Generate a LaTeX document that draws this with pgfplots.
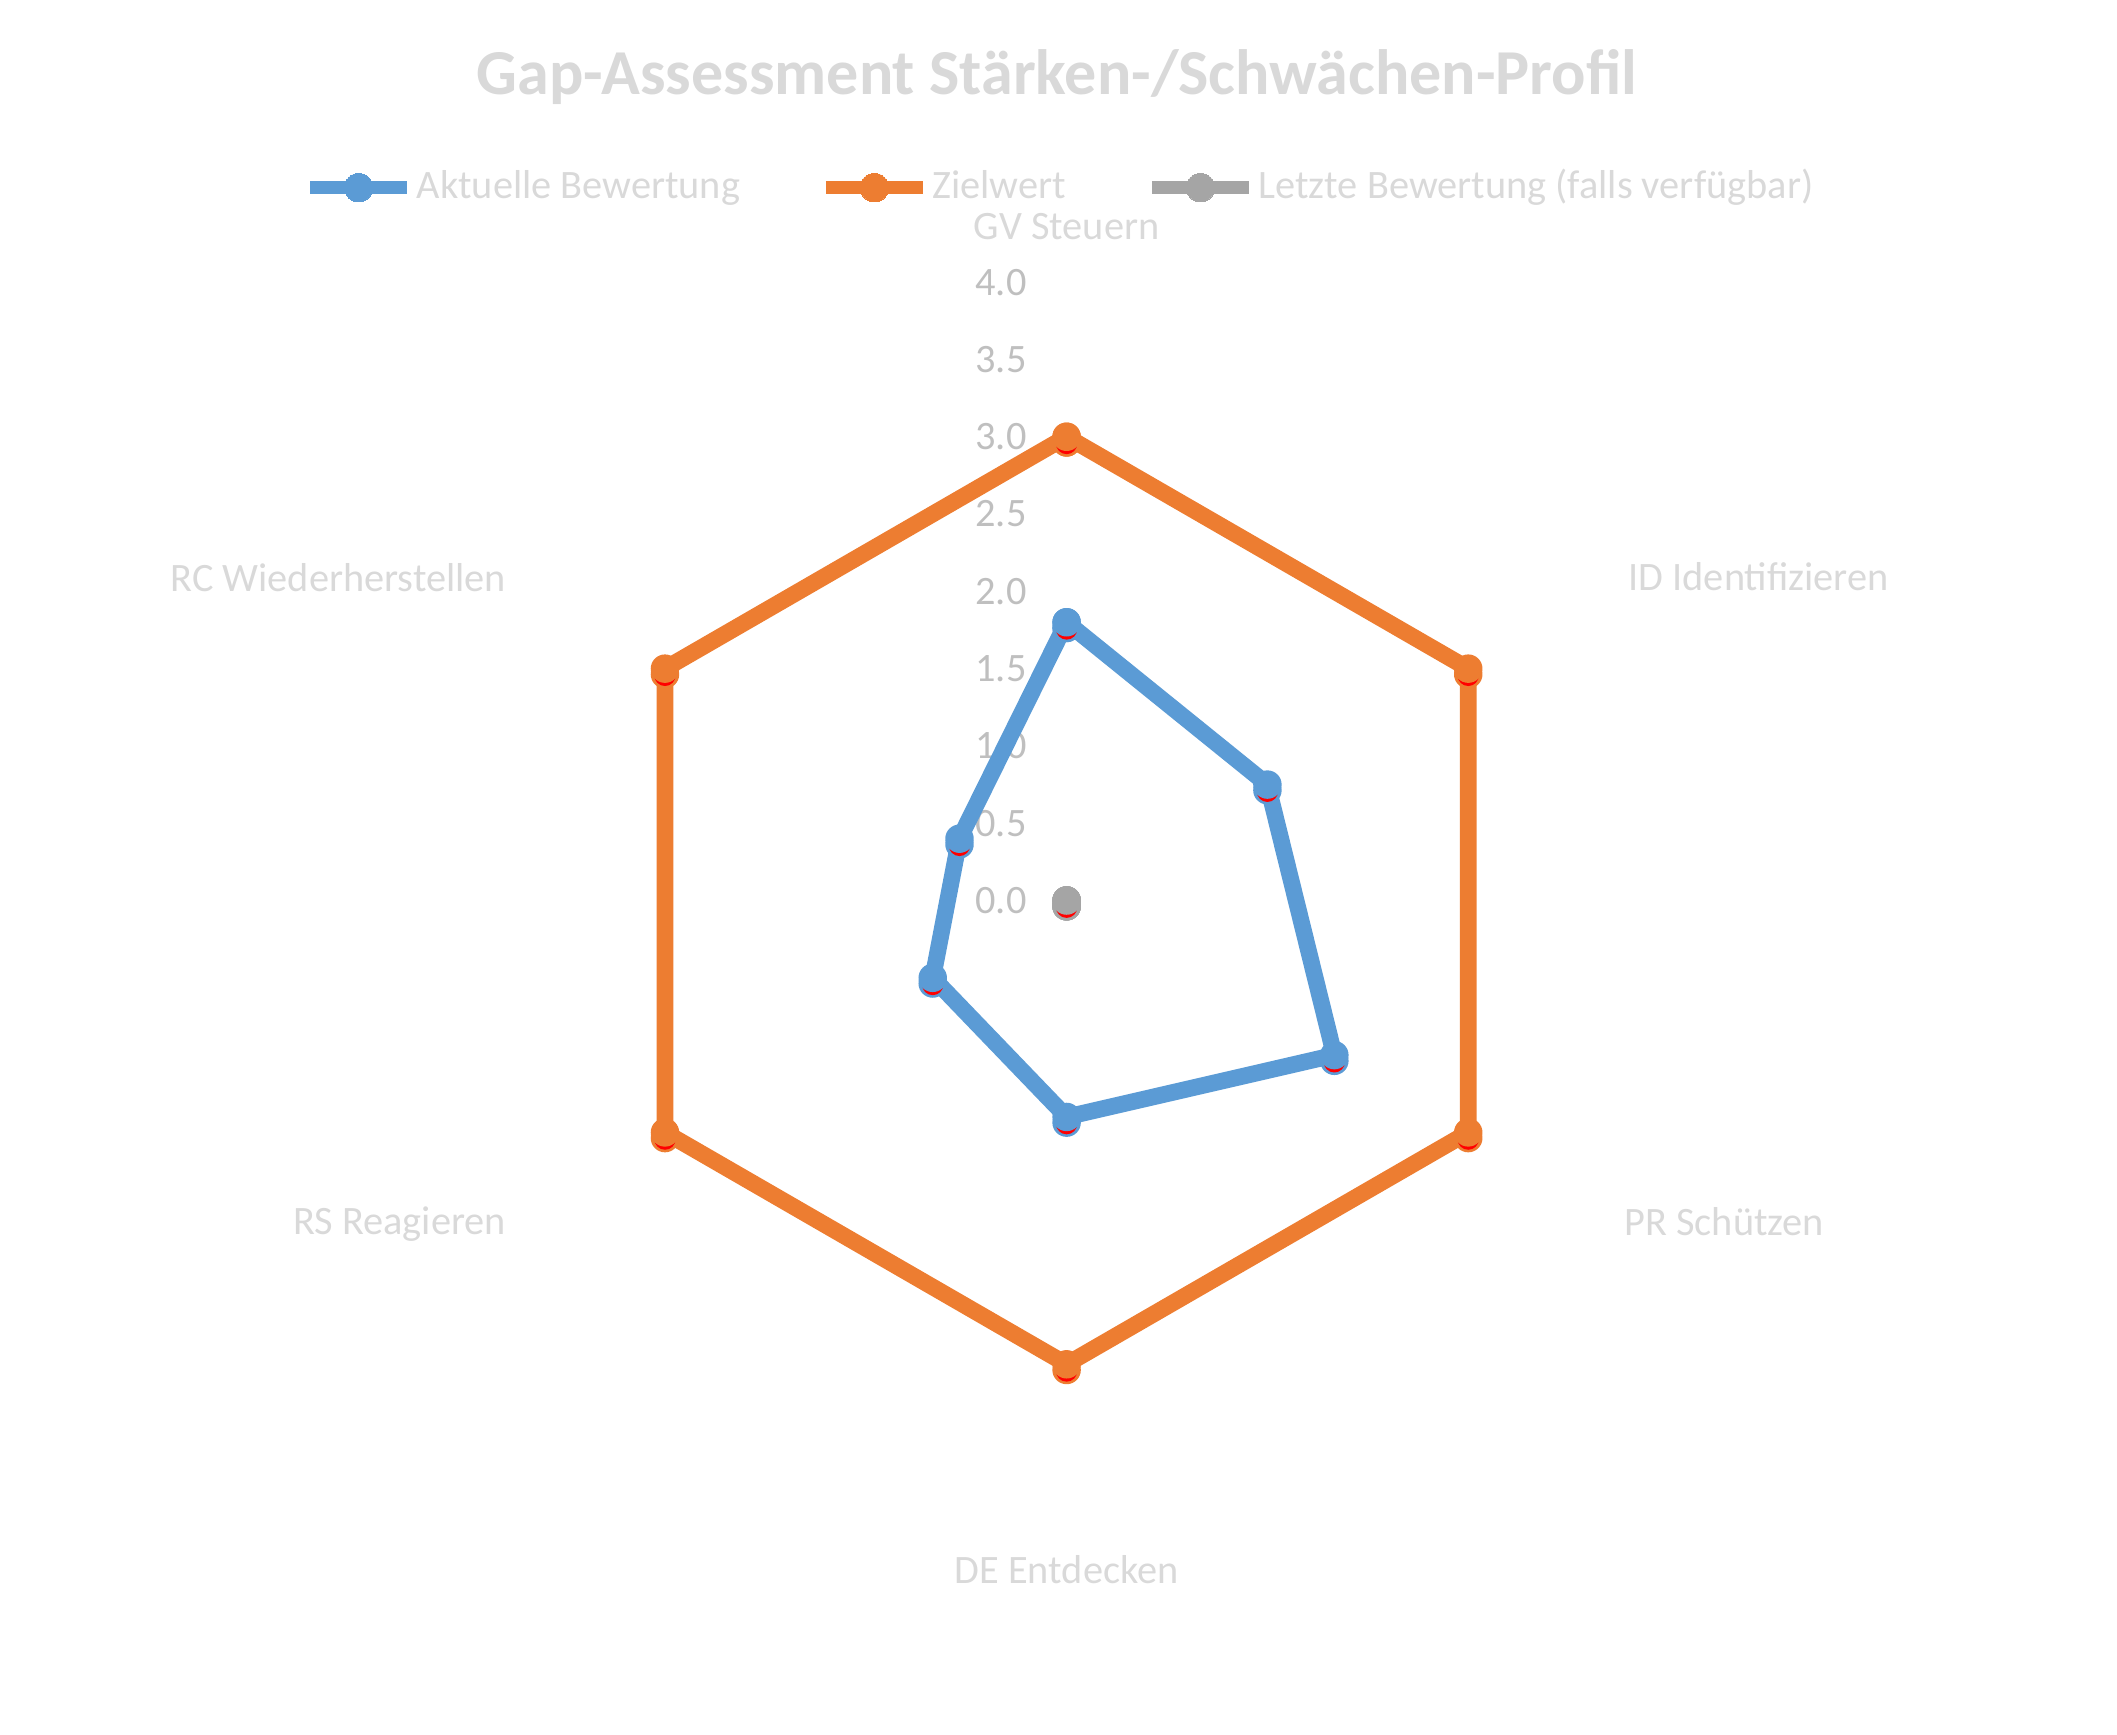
\documentclass[border=0pt]{standalone}
\usepackage{fontspec}
\setmainfont{Carlito}
\usepackage{pgfplots}
\pgfplotsset{compat=1.18}
\usepgfplotslibrary{polar}
\definecolor{cBlue}{HTML}{5B9BD5}
\definecolor{cOrange}{HTML}{ED7D31}
\definecolor{cGray}{HTML}{A5A5A5}
\definecolor{txtLight}{HTML}{D9D9D9}
\definecolor{txtTick}{HTML}{BFBFBF}

\pgfdeclareplotmark{xball}{%
  \pgfpathcircle{\pgfpoint{0pt}{-0.4\pgfplotmarksize}}{\pgfplotmarksize}\pgfusepathqfill
  \begin{pgfscope}\pgfsetfillcolor{red}%
  \pgfpathcircle{\pgfpoint{0pt}{-0.47\pgfplotmarksize}}{0.75\pgfplotmarksize}\pgfusepathqfill
  \end{pgfscope}%
  \pgfpathcircle{\pgfpointorigin}{\pgfplotmarksize}\pgfusepathqfill
}

\begin{document}
\begin{tikzpicture}
\path[use as bounding box] (0,0) rectangle (15.68,12.85);
\node[font=\bfseries\fontsize{13.5}{16}\selectfont, text=txtLight] at (7.83,12.28) {Gap-Assessment Stärken-/Schwächen-Profil};
\begin{polaraxis}[
  at={(7.90cm,6.18cm)}, anchor=center,
  width=9.16cm, height=9.16cm, scale only axis,
  ymin=0, ymax=4, xtick=\empty, ytick=\empty,
  axis line style={draw=none},
  clip=false,
  legend columns=3,
  legend style={at={(0.4945,1.0764)}, anchor=center, draw=none, fill=none,
    font=\fontsize{8.5}{10}\selectfont, text=txtLight, nodes={inner sep=0.6pt},
    /tikz/every even column/.append style={column sep=0.565cm}, inner sep=0pt},
  legend image code/.code={\draw[#1, line width=2.8pt, mark=*, mark size=3pt, mark options={line width=0pt}, mark repeat=2, mark phase=2] plot coordinates {(0cm,0cm) (0.36cm,0cm) (0.72cm,0cm)};},
]
\pgfplotsinvokeforeach{0.0,0.5,1.0,1.5,2.0,2.5,3.0,3.5,4.0}{
  \node[anchor=east, xshift=-0.29cm, text=txtTick, font=\fontsize{8.5}{10}\selectfont, inner sep=0pt] at (axis cs:90,#1) {#1};
}
\node[text=txtLight, font=\fontsize{8.5}{10}\selectfont] at (axis cs:90,4.36) {GV Steuern};
\node[text=txtLight, font=\fontsize{8.5}{10}\selectfont, anchor=west, inner sep=0pt] at (axis cs:30,4.19) {ID Identifizieren};
\node[text=txtLight, font=\fontsize{8.5}{10}\selectfont, anchor=west, inner sep=0pt] at (axis cs:-30,4.16) {PR Schützen};
\node[text=txtLight, font=\fontsize{8.5}{10}\selectfont] at (axis cs:-90,4.33) {DE Entdecken};
\node[text=txtLight, font=\fontsize{8.5}{10}\selectfont, anchor=east, inner sep=0pt] at (axis cs:-150,4.18) {RS Reagieren};
\node[text=txtLight, font=\fontsize{8.5}{10}\selectfont, anchor=east, inner sep=0pt] at (axis cs:150,4.18) {RC Wiederherstellen};

\addplot[cBlue, line width=3.5pt, line join=round, mark=xball, mark size=3pt, mark options={fill=cBlue, draw=none}]
  coordinates {(90,1.8) (30,1.5) (-30,2.0) (-90,1.4) (-150,1.0) (150,0.8) (90,1.8)};
\addlegendentry{Aktuelle Bewertung}
\addplot[cOrange, line width=3.5pt, line join=round, mark=xball, mark size=3pt, mark options={fill=cOrange, draw=none}]
  coordinates {(90,3.0) (30,3.0) (-30,3.0) (-90,3.0) (-150,3.0) (150,3.0) (90,3.0)};
\addlegendentry{Zielwert}
\addplot[cGray, line width=3.5pt, line join=round, mark=xball, mark size=3pt, mark options={fill=cGray, draw=none}]
  coordinates {(90,0) (30,0) (-30,0) (-90,0) (-150,0) (150,0) (90,0)};
\addlegendentry{Letzte Bewertung (falls verfügbar)}
\end{polaraxis}
\end{tikzpicture}
\end{document}
